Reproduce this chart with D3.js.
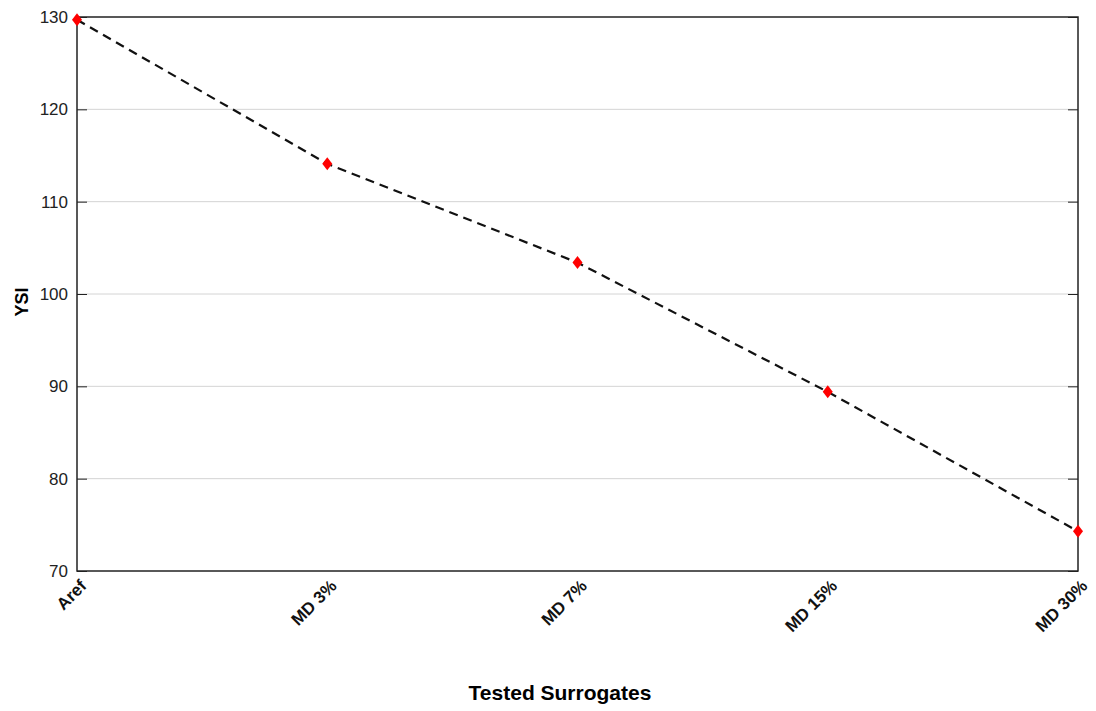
<!DOCTYPE html>
<html>
<head>
<meta charset="utf-8">
<script src="https://cdn.jsdelivr.net/npm/d3@7"></script>
<style>
body { margin: 0; background: #fff; }
text { font-family: "Liberation Sans", Arial, sans-serif; }
</style>
</head>
<body>
<div id="chart"></div>
<script>
var categories = ["Aref", "MD 3%", "MD 7%", "MD 15%", "MD 30%"];
var ysi = [129.7, 114.1, 103.4, 89.4, 74.3];
var yTicks = [70, 80, 90, 100, 110, 120, 130];

var width = 1096, height = 711;
var margin = {top: 17, right: 18, bottom: 140, left: 77};
var w = width - margin.left - margin.right;
var h = height - margin.top - margin.bottom;

var svg = d3.select("#chart").append("svg")
    .attr("width", width)
    .attr("height", height);

var g = svg.append("g")
    .attr("transform", "translate(" + margin.left + "," + margin.top + ")");

var x = d3.scalePoint().domain(categories).range([0, w]).padding(0);
var y = d3.scaleLinear().domain([70, 130]).range([h, 0]);

// gridlines
g.selectAll("line.grid")
    .data(yTicks.filter(function (d) { return d > 70 && d < 130; }))
    .enter().append("line")
    .attr("class", "grid")
    .attr("x1", 0).attr("x2", w)
    .attr("y1", function (d) { return y(d); })
    .attr("y2", function (d) { return y(d); })
    .style("stroke", "#d4d4d4")
    .style("stroke-width", 1);

// left axis
var yaxis = g.append("g")
    .call(d3.axisLeft(y).tickValues(yTicks).tickSizeInner(-10).tickSizeOuter(0).tickPadding(9));
yaxis.select(".domain").remove();
yaxis.selectAll("line").style("stroke", "#222");
yaxis.selectAll("text")
    .style("font-size", "17px")
    .style("fill", "#222");

// right ticks
var yaxisR = g.append("g")
    .attr("transform", "translate(" + w + ",0)")
    .call(d3.axisRight(y).tickValues(yTicks).tickSizeInner(-10).tickSizeOuter(0).tickFormat(""));
yaxisR.select(".domain").remove();
yaxisR.selectAll("line").style("stroke", "#222");

// frame
g.append("rect")
    .attr("x", 0).attr("y", 0)
    .attr("width", w).attr("height", h)
    .style("fill", "none")
    .style("stroke", "#222")
    .style("stroke-width", 1.5);

// x labels
var xaxis = g.append("g")
    .attr("transform", "translate(0," + h + ")")
    .call(d3.axisBottom(x).tickSize(0).tickPadding(0));
xaxis.select(".domain").remove();
xaxis.selectAll("text")
    .style("font-size", "17px")
    .style("font-weight", "bold")
    .style("fill", "#111")
    .style("text-anchor", "end")
    .attr("dy", null)
    .attr("y", 0)
    .attr("transform", "translate(10,16) rotate(-45)");

// line
var valueline = d3.line()
    .x(function (d, i) { return x(categories[i]); })
    .y(function (d) { return y(d); });

g.append("path")
    .datum(ysi)
    .attr("d", valueline)
    .style("fill", "none")
    .style("stroke", "#111")
    .style("stroke-width", 2.2)
    .style("stroke-dasharray", "9,6");

// diamonds
g.selectAll("path.pt")
    .data(ysi)
    .enter().append("path")
    .attr("class", "pt")
    .attr("d", "M0,-6.5L5,0L0,6.5L-5,0Z")
    .attr("transform", function (d, i) { return "translate(" + x(categories[i]) + "," + y(d) + ")"; })
    .style("fill", "#ff0000");

// axis titles
svg.append("text")
    .attr("transform", "translate(28," + (margin.top + h / 2 + 8) + ") rotate(-90)")
    .style("text-anchor", "middle")
    .style("font-size", "18px")
    .style("font-weight", "bold")
    .text("YSI");

svg.append("text")
    .attr("x", 560)
    .attr("y", 700)
    .style("text-anchor", "middle")
    .style("font-size", "21px")
    .style("font-weight", "bold")
    .text("Tested Surrogates");
</script>
</body>
</html>
